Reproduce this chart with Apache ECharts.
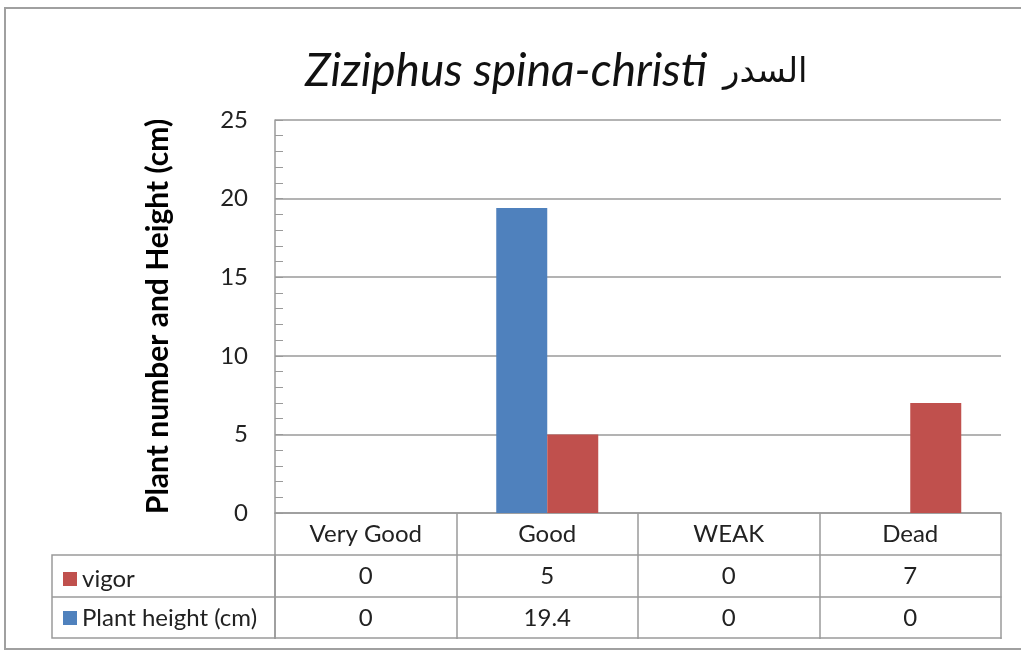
<!DOCTYPE html>
<html>
<head>
<meta charset="utf-8">
<script src="https://cdn.jsdelivr.net/npm/echarts@6/dist/echarts.min.js"></script>
<style>
  html, body { margin: 0; padding: 0; background: #fff; }
  #chart { width: 1021px; height: 650px; }
</style>
</head>
<body>
<div id="chart"></div>
<script>
// data
const categories = ['Very Good', 'Good', 'WEAK', 'Dead']
const vigor = [0, 5, 0, 7]
const plantHeight = [0, 19.4, 0, 0]
const yTicks = [0, 5, 10, 15, 20, 25]

const font = 'Lato, "DejaVu Sans", sans-serif'
const lineColor = '#9a9a9a'
const textSize = 24

// one x axis per table row, stacked by offset
function tableAxis (offset, values) {
  return {
    type: 'category',
    data: categories,
    position: 'bottom',
    offset: offset,
    axisLine: { show: true, lineStyle: { color: lineColor, width: 1.5 } },
    axisTick: { show: values !== null, length: 42, lineStyle: { color: lineColor, width: 1.5 } },
    axisLabel: {
      show: values !== null,
      margin: 9,
      fontSize: textSize,
      fontFamily: font,
      color: '#222',
      formatter: (v, i) => values ? String(values[i]) : ''
    }
  }
}

const chart = echarts.init(document.getElementById('chart'))
chart.setOption({
  animation: false,
  title: {
    text: '{a|Ziziphus spina-christi}{b|السدر}',
    left: 300,
    top: 43,
    textStyle: {
      fontWeight: 'normal',
      rich: {
        a: { fontSize: 46, fontStyle: 'italic', fontWeight: 'normal', fontFamily: font, color: '#111' },
        b: { fontSize: 34, fontWeight: 'normal', fontFamily: font, color: '#111', padding: [0, 0, 0, 16] }
      }
    }
  },
  legend: {
    orient: 'vertical',
    left: 58,
    top: 562,
    itemWidth: 14,
    itemHeight: 14,
    itemGap: 15,
    icon: 'rect',
    data: ['vigor', 'Plant height (cm)'],
    textStyle: { fontSize: textSize, fontFamily: font, color: '#222' }
  },
  grid: { left: 275, right: 20, top: 120, bottom: 137 },
  xAxis: [
    tableAxis(0, categories),
    tableAxis(42, vigor),
    tableAxis(84, plantHeight),
    tableAxis(125, null)
  ],
  yAxis: {
    type: 'value',
    min: yTicks[0],
    max: yTicks[yTicks.length - 1],
    interval: 5,
    name: 'Plant number and Height (cm)',
    nameLocation: 'middle',
    nameGap: 102,
    nameTextStyle: { fontSize: 30, fontWeight: 'bold', fontFamily: font, color: '#000' },
    axisLine: { show: true, lineStyle: { color: lineColor, width: 1.5 } },
    axisTick: { show: true, inside: true, length: 8, lineStyle: { color: lineColor } },
    minorTick: { show: true, splitNumber: 5, length: 8, lineStyle: { color: lineColor } },
    splitLine: { lineStyle: { color: lineColor, width: 1.5 } },
    axisLabel: { margin: 27, fontSize: textSize, fontFamily: font, color: '#222' }
  },
  series: [
    {
      name: 'Plant height (cm)',
      type: 'bar',
      xAxisIndex: 0,
      data: plantHeight,
      barWidth: 51,
      barGap: '0%',
      itemStyle: { color: '#4f81bd' }
    },
    {
      name: 'vigor',
      type: 'bar',
      xAxisIndex: 0,
      data: vigor,
      barWidth: 51,
      barGap: '0%',
      itemStyle: { color: '#c0504d' }
    }
  ],
  graphic: [
    // outer chart frame
    { type: 'rect', shape: { x: 5, y: 8, width: 1040, height: 641 }, style: { fill: 'none', stroke: '#a0a0a0', lineWidth: 2 }, silent: true },
    // legend column of the data table
    { type: 'rect', shape: { x: 52, y: 555, width: 223, height: 83 }, style: { fill: 'none', stroke: lineColor, lineWidth: 1.5 }, silent: true },
    { type: 'line', shape: { x1: 52, y1: 597, x2: 275, y2: 597 }, style: { stroke: lineColor, lineWidth: 1.5 }, silent: true }
  ]
})
</script>
</body>
</html>
